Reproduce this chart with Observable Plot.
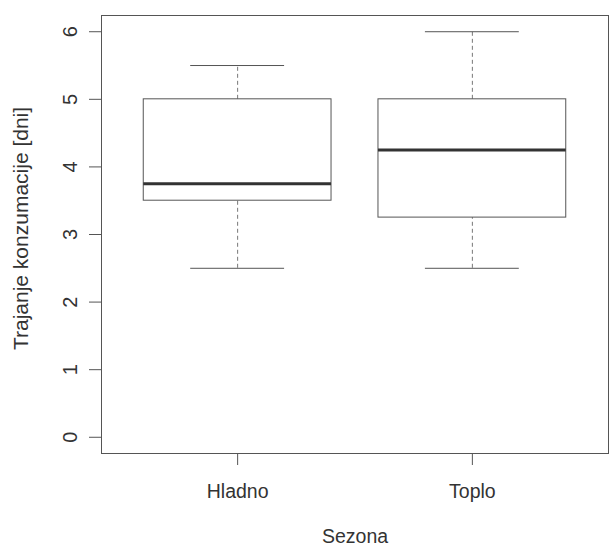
<!DOCTYPE html>
<html>
<head>
<meta charset="utf-8">
<script src="https://cdn.jsdelivr.net/npm/d3@7"></script>
<script src="https://cdn.jsdelivr.net/npm/@observablehq/plot@0.6"></script>
<style>
  html, body { margin: 0; padding: 0; background: #fff; }
</style>
</head>
<body>
<div id="chart"></div>
<script>
const seasons = ["Hladno", "Toplo"];
const whiskerLow = [2.5, 2.5];
const quartile1 = [3.5, 3.25];
const medians = [3.75, 4.25];
const quartile3 = [5.0, 5.0];
const whiskerHigh = [5.5, 6.0];
const yTicks = [0, 1, 2, 3, 4, 5, 6];
const xTitle = "Sezona";
const yTitle = "Trajanje konzumacije [dni]";

const data = seasons.map((s, i) => ({
  season: s,
  pos: i + 1,
  lo: whiskerLow[i],
  q1: quartile1[i],
  med: medians[i],
  q3: quartile3[i],
  hi: whiskerHigh[i]
}));

const line = "#555";
const chart = Plot.plot({
  width: 610,
  height: 548,
  marginLeft: 101,
  marginRight: 2,
  marginTop: 15,
  marginBottom: 95,
  x: { domain: [0.42, 2.58] },
  y: { domain: [-0.24, 6.24] },
  style: { fontFamily: "'Liberation Sans', Arial, sans-serif", fontSize: "19.5px", color: "#333", background: "#fff" },
  marks: [
    Plot.frame({ stroke: line }),
    Plot.ruleX(data, { x: "pos", y1: "lo", y2: "q1", stroke: "#777", strokeDasharray: "4,3" }),
    Plot.ruleX(data, { x: "pos", y1: "q3", y2: "hi", stroke: "#777", strokeDasharray: "4,3" }),
    Plot.ruleY(data, { y: "lo", x1: d => d.pos - 0.2, x2: d => d.pos + 0.2, stroke: line }),
    Plot.ruleY(data, { y: "hi", x1: d => d.pos - 0.2, x2: d => d.pos + 0.2, stroke: line }),
    Plot.rect(data, { x1: d => d.pos - 0.4, x2: d => d.pos + 0.4, y1: "q1", y2: "q3", stroke: line, fill: "none" }),
    Plot.ruleY(data, { y: "med", x1: d => d.pos - 0.4, x2: d => d.pos + 0.4, stroke: "#333", strokeWidth: 3 }),
    Plot.axisY({ ticks: yTicks, tickFormat: d3.format("d"), tickSize: 12, tickRotate: -90, tickPadding: 13, stroke: line, label: null, fontSize: 20 }),
    Plot.axisX({ ticks: [1, 2], tickFormat: i => seasons[i - 1], tickSize: 12, tickPadding: 19, stroke: line, label: null }),
    Plot.text([yTitle], { text: d => d, frameAnchor: "left", textAnchor: "middle", rotate: -90, dx: -80, dy: -6, fill: "#333", fontSize: 21 }),
    Plot.text([xTitle], { text: d => d, frameAnchor: "bottom", dy: 89, fill: "#333" })
  ]
});
document.getElementById("chart").appendChild(chart);
</script>
</body>
</html>
